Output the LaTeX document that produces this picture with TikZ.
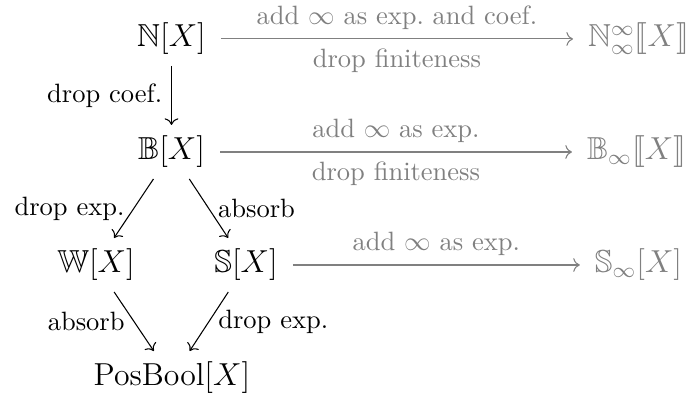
\documentclass[tikz,border=0pt]{standalone}
\usepackage{amsmath, amssymb, stmaryrd}
\usetikzlibrary{arrows.meta}

\begin{document}
\begin{tikzpicture}[>={Computer Modern Rightarrow},
    obj/.style={font=\large, inner xsep=5.5pt, inner ysep=4pt, text height=9pt, text depth=3pt},
    faded/.style={gray}]
  \useasboundingbox (0,0) rectangle (9.139,5.266);
  \node[obj] (N) at (2.275,4.749) {$\mathbb{N}[X]$};
  \node[obj] (B) at (2.275,3.250) {$\mathbb{B}[X]$};
  \node[obj] (W) at (1.273,1.751) {$\mathbb{W}[X]$};
  \node[obj] (S) at (3.263,1.751) {$\mathbb{S}[X]$};
  \node[obj] (P) at (2.281,0.252) {$\mathrm{PosBool}[X]$};
  \node[obj,faded] (Ninf) at (8.469,4.749) {$\mathbb{N}^{\infty}_{\infty}\llbracket X\rrbracket$};
  \node[obj,faded] (Binf) at (8.443,3.250) {$\mathbb{B}_{\infty}\llbracket X\rrbracket$};
  \node[obj,faded] (Sinf) at (8.469,1.751) {$\mathbb{S}_{\infty}[X]$};
  \draw[->] (N) -- (B) node[midway,left] (dc) {drop coef.};
  \draw[->] (B) -- (W) node[midway,left] (de1) {drop exp.};
  \draw[->] (B) -- (S) node[midway,right] (ab1) {absorb};
  \draw[->] (W) -- (P) node[midway,left] (ab2) {absorb};
  \draw[->] (S) -- (P) node[midway,right] (de2) {drop exp.};
  \draw[->,faded] (N) -- (Ninf) node[midway,above] (an) {add $\infty$ as exp.\ and coef.}
    node[midway,below] (fn) {drop finiteness};
  \draw[->,faded] (B) -- (Binf) node[midway,above] (ab) {add $\infty$ as exp.}
    node[midway,below] (fb) {drop finiteness};
  \draw[->,faded] (S) -- (Sinf) node[midway,above] (as) {add $\infty$ as exp.};
\end{tikzpicture}
\end{document}
